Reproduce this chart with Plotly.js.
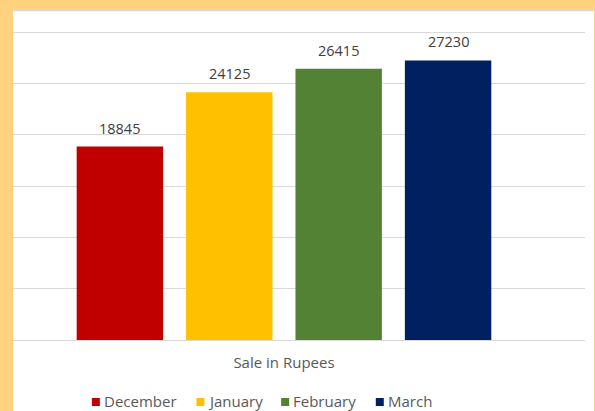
<!DOCTYPE html>
<html>
<head>
<meta charset="utf-8">
<script src="https://cdn.plot.ly/plotly-3.0.1.min.js"></script>
<style>html,body{margin:0;padding:0;background:#FFD27F;overflow:hidden;width:595px;height:411px;}#chart{position:absolute;left:0;top:0;width:595px;height:411px;overflow:hidden;}</style>
</head>
<body>
<div id="chart"></div>
<script>
var category = ["Sale in Rupees"];
var months = ["December", "January", "February", "March"];
var sales = [18845, 24125, 26415, 27230];
var colors = ["#C00000", "#FFC000", "#548235", "#002060"];
var yTicks = [0, 5000, 10000, 15000, 20000, 25000, 30000];

var FONT = "Open Sans, sans-serif";
var bargap = 0.2;

// plot area geometry (pixels)
var W = 595, H = 411;
var plotLeft = 13, plotRight = 585, plotW = plotRight - plotLeft;
var plotTop = 29, plotBottom = 340, plotH = plotBottom - plotTop;
var yMax = 30000 * plotH / (plotBottom - 32);
function px2x(p) { return (p - plotLeft) / plotW; }
function px2y(p) { return (plotBottom - p) / plotH; }

var traces = months.map(function (m, i) {
  return {
    type: "bar",
    name: m,
    x: category,
    y: [sales[i]],
    marker: {color: colors[i]},
    hoverinfo: "none",
    showlegend: false
  };
});

var slot = (1 - bargap) / months.length;
var annotations = months.map(function (m, i) {
  return {
    xref: "x", yref: "y",
    x: (i - (months.length - 1) / 2) * slot,
    y: sales[i],
    text: String(sales[i]),
    showarrow: false,
    yanchor: "bottom",
    yshift: 7,
    font: {family: FONT, size: 14.5, color: "#404040"}
  };
});

var shapes = [
  {type: "rect", layer: "below", xref: "paper", yref: "paper",
   x0: px2x(plotLeft), x1: px2x(594), y0: px2y(H), y1: px2y(11),
   fillcolor: "#FFFFFF", line: {width: 0}},
  {type: "line", layer: "below", xref: "paper", yref: "paper",
   x0: px2x(plotLeft), x1: px2x(594), y0: px2y(10.5), y1: px2y(10.5),
   line: {color: "#D9D9D9", width: 1.5}}
];

// legend: small square + label, laid out from measured text widths
var legendFontSize = 15, sq = 8, sqGap = 3, itemGap = 21;
var legendCenterX = 261.5, legendCenterY = 401;
var ctx = document.createElement("canvas").getContext("2d");
ctx.font = legendFontSize + "px 'Open Sans'";
var widths = months.map(function (m) { return ctx.measureText(m).width; });
var total = widths.reduce(function (a, w) { return a + sq + sqGap + w; }, 0) + itemGap * (months.length - 1);
var cx = legendCenterX - total / 2;
months.forEach(function (m, i) {
  shapes.push({type: "rect", xref: "paper", yref: "paper",
    x0: px2x(cx), x1: px2x(cx + sq),
    y0: px2y(legendCenterY + sq / 2 + 1), y1: px2y(legendCenterY - sq / 2 + 1),
    fillcolor: colors[i], line: {width: 0}});
  annotations.push({xref: "paper", yref: "paper",
    x: px2x(cx + sq + sqGap), y: px2y(legendCenterY),
    xanchor: "left", yanchor: "middle", borderpad: 0,
    text: m, showarrow: false,
    font: {family: FONT, size: legendFontSize, color: "#595959"}});
  cx += sq + sqGap + widths[i] + itemGap;
});

var layout = {
  width: W, height: H,
  margin: {l: plotLeft, r: W - plotRight, t: plotTop, b: H - plotBottom, autoexpand: false},
  paper_bgcolor: "#FFD27F",
  plot_bgcolor: "rgba(0,0,0,0)",
  barmode: "group",
  bargap: bargap,
  bargroupgap: 0.21,
  font: {family: FONT, color: "#595959"},
  xaxis: {
    type: "category",
    range: [-0.4954, 0.5503],
    showgrid: false,
    showline: false,
    ticks: "outside", ticklen: 9, tickcolor: "rgba(0,0,0,0)",
    tickfont: {family: FONT, size: 15, color: "#595959"},
    fixedrange: true
  },
  yaxis: {
    range: [0, yMax],
    tickvals: yTicks,
    showticklabels: false,
    showgrid: true,
    gridcolor: "#D9D9D9",
    gridwidth: 1,
    zeroline: true,
    zerolinecolor: "#D9D9D9",
    zerolinewidth: 1,
    showline: false,
    fixedrange: true
  },
  showlegend: false,
  annotations: annotations,
  shapes: shapes
};

Plotly.newPlot("chart", traces, layout, {displayModeBar: false, staticPlot: true});
</script>
</body>
</html>
